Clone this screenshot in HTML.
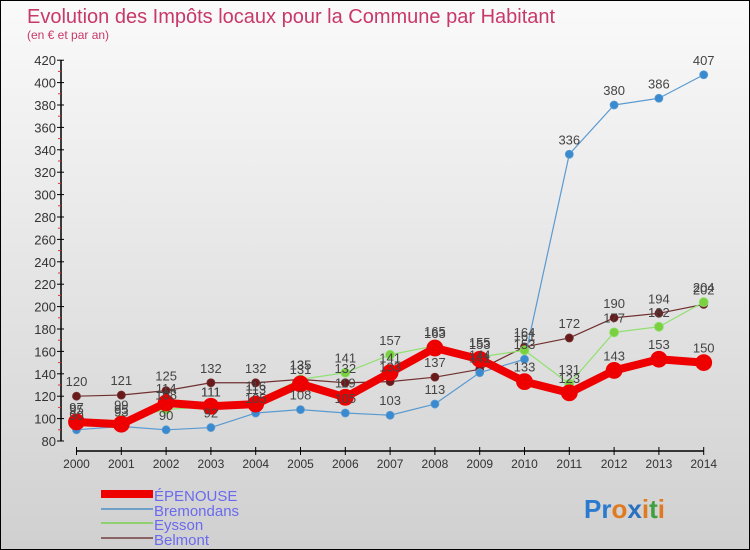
<!DOCTYPE html>
<html><head><meta charset="utf-8">
<style>
html,body{margin:0;padding:0;}
body{width:750px;height:550px;overflow:hidden;font-family:"Liberation Sans",sans-serif;}
#wrap{position:relative;width:748px;height:548px;border:1px solid #000;background:linear-gradient(#fafafa,#d0d0d0);}
svg{position:absolute;left:0;top:0;}
</style></head><body>
<div id="wrap">
<svg id="chart" width="748" height="548">
<text x="26" y="22" font-size="20" fill="#c8386a">Evolution des Impôts locaux pour la Commune par Habitant</text>
<text x="26" y="38" font-size="12" fill="#c8386a">(en € et par an)</text>
<g id="axes"></g><g id="series"></g><g id="labels"></g>
<g>
<line x1="100" y1="493" x2="152" y2="493" stroke="#ee0000" stroke-width="8"/>
<text x="153" y="500" font-size="15" fill="#6a6aee">ÉPENOUSE</text>
<line x1="100" y1="508" x2="152" y2="508" stroke="#6fa0c8" stroke-width="2"/>
<text x="153" y="515" font-size="15" fill="#6a6aee">Bremondans</text>
<line x1="100" y1="522" x2="152" y2="522" stroke="#90d070" stroke-width="2"/>
<text x="153" y="529" font-size="15" fill="#6a6aee">Eysson</text>
<line x1="100" y1="537" x2="152" y2="537" stroke="#8a6464" stroke-width="2"/>
<text x="153" y="544" font-size="15" fill="#6a6aee">Belmont</text>
</g>
<text x="583" y="517" font-size="26" font-weight="bold"><tspan fill="#2a7ad0">Pr</tspan><tspan fill="#e07a20">o</tspan><tspan fill="#2a70c0">x</tspan><tspan fill="#e07a20">i</tspan><tspan fill="#40a040">t</tspan><tspan fill="#e07a20">i</tspan></text>
</svg>
</div>
<script>
const years=[2000,2001,2002,2003,2004,2005,2006,2007,2008,2009,2010,2011,2012,2013,2014];
const yTicks=[80,100,120,140,160,180,200,220,240,260,280,300,320,340,360,380,400,420];
const epenouse=[97,95,114,111,113,131,119,141,163,153,133,123,143,153,150];
const bremondans=[90,93,90,92,105,108,105,103,113,141,153,336,380,386,407];
const eysson=[95,99,108,111,116,135,141,157,165,155,161,131,177,182,204];
const belmont=[120,121,125,132,132,135,132,133,137,144,164,172,190,194,202];
const NS='http://www.w3.org/2000/svg';
const xS=i=>75.5+i*44.8;
const yS=v=>440-(v-80)*1.12;
function mk(tag,attrs,parent){const e=document.createElementNS(NS,tag);for(const k in attrs)e.setAttribute(k,attrs[k]);parent.appendChild(e);return e;}
const axes=document.getElementById('axes');
let a=mk('line',{x1:60,y1:yS(420),x2:60,y2:yS(80),stroke:'#000','stroke-width':1.5},axes);


yTicks.forEach(t=>{
 mk('line',{x1:56,y1:yS(t),x2:63,y2:yS(t),stroke:'#000'},axes);
 if(t<420){let m=mk('line',{x1:57,y1:yS(t+10),x2:60,y2:yS(t+10),stroke:'#e03030'},axes);}
 const tx=mk('text',{x:55,y:yS(t)+5,'font-size':13,'text-anchor':'end',fill:'#333'},axes);
 tx.textContent=t;
 
 
});
let xa=mk('line',{x1:xS(0),y1:450,x2:xS(14),y2:450,stroke:'#000','stroke-width':1.5},axes);


years.forEach((y,i)=>{
 mk('line',{x1:xS(i),y1:446,x2:xS(i),y2:454,stroke:'#000'},axes);
 const tx=mk('text',{x:xS(i),y:467,'font-size':12,'text-anchor':'middle',fill:'#333'},axes);
 tx.textContent=y;
 
 
});
const S=document.getElementById('series'),L=document.getElementById('labels');
function draw(vals,name,color,w,r,dot){
 const g=mk('g',{},S);
 
 
 const p=mk('polyline',{points:vals.map((v,i)=>xS(i)+','+yS(v)).join(' '),fill:'none',stroke:color,'stroke-width':w,'stroke-linejoin':'round'},g);
 
 
 vals.forEach((v,i)=>{
  const c=mk('circle',{cx:xS(i),cy:yS(v),r:r,fill:dot,stroke:color,'stroke-width':0.8},g);
  
  
  const t=mk('text',{x:xS(i),y:yS(v)-10,'font-size':13,'text-anchor':'middle',fill:'#444'},L);
  t.textContent=v;
  
  
 });
}
draw(belmont,'belmont','#703030',1.2,4,'#6a1a1a');
draw(bremondans,'bremondans','#5a9ad0',1.2,4,'#3a8ad0');
draw(eysson,'eysson','#90e070',1.2,4.5,'#7ad040');
draw(epenouse,'epenouse','#ee0000',8,8,'#ee0000');
</script>
</body></html>
